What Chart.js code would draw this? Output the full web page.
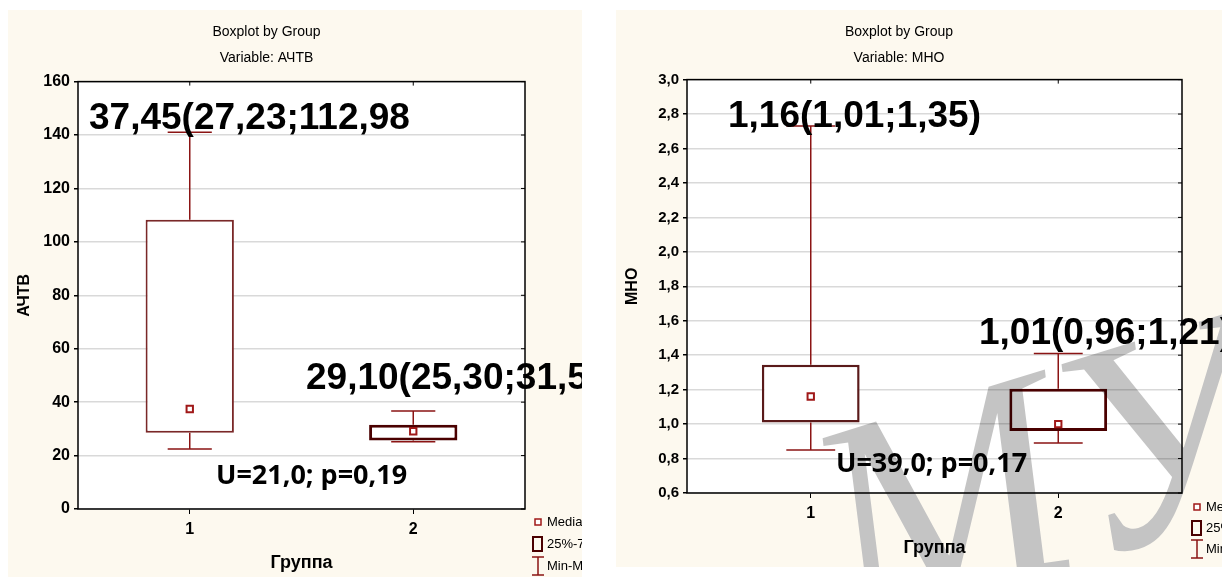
<!DOCTYPE html>
<html>
<head>
<meta charset="utf-8">
<script src="https://cdn.jsdelivr.net/npm/chart.js@4.4.0/dist/chart.umd.min.js"></script>
<style>
  html, body { margin: 0; padding: 0; background: #fff; width: 1222px; height: 577px; overflow: hidden; }
  .panel { position: absolute; background: #fdf9ef; }
  #leftBox { left: 8px; top: 10px; width: 574px; height: 567px; }
  #rightBox { left: 616px; top: 10px; width: 606px; height: 557px; }
</style>
</head>
<body>
<div class="panel" id="leftBox"><canvas id="achtvChart"></canvas></div>
<div class="panel" id="rightBox"><canvas id="mnoChart"></canvas></div>
<script>
// groups on the x axis
const groups = ['1', '2'];

// АЧТВ
const achtvMin = [22.5, 25.2];
const achtvQ1 = [28.5, 25.6];
const achtvMedian = [37.45, 29.1];
const achtvQ3 = [108.3, 31.5];
const achtvMax = [141, 36.7];
const achtvTicks = [0, 20, 40, 60, 80, 100, 120, 140, 160];
const achtvNotes = ['37,45(27,23;112,98', '29,10(25,30;31,5', 'U=21,0; p=0,19'];

// МНО
const mnoMin = [0.85, 0.89];
const mnoQ1 = [1.01, 0.96];
const mnoMedian = [1.16, 1.0];
const mnoQ3 = [1.345, 1.205];
const mnoMax = [2.73, 1.41];
const mnoTicks = [0.6, 0.8, 1.0, 1.2, 1.4, 1.6, 1.8, 2.0, 2.2, 2.4, 2.6, 2.8, 3.0];
const mnoNotes = ['1,16(1,01;1,35)', '1,01(0,96;1,21)', 'U=39,0; p=0,17'];

const legendLabels = ['Median', '25%-75%', 'Min-Max'];

const SANS = "'Liberation Sans', Arial, sans-serif";
const WHISKER = '#8b1414';
const MEDIAN = '#a01818';

const plotBg = {
  id: 'plotBg',
  beforeDraw(chart) {
    const {ctx, chartArea: a} = chart;
    ctx.save();
    ctx.fillStyle = '#fff';
    ctx.fillRect(a.left, a.top, a.right - a.left, a.bottom - a.top);
    ctx.restore();
  }
};

// grey "МУ" stamp that sits over the right figure
const watermark = {
  id: 'watermark',
  afterDraw(chart, args, opts) {
    if (!opts.show) return;
    const {ctx} = chart;
    ctx.save();
    ctx.globalCompositeOperation = 'multiply';
    ctx.translate(opts.x, opts.y);
    ctx.rotate(opts.angle);
    ctx.fillStyle = '#c4c4c4';
    ctx.font = "italic 300px 'Liberation Serif', serif";
    ctx.fillText('МУ', 0, 0);
    ctx.restore();
  }
};

const whiskers = {
  id: 'whiskers',
  beforeDatasetsDraw(chart, args, opts) {
    const {ctx, scales: {y}} = chart;
    const bars = chart.getDatasetMeta(0).data;
    ctx.save();
    ctx.strokeStyle = WHISKER;
    ctx.lineWidth = 1.5;
    opts.lo.forEach((lo, i) => {
      const cx = bars[i].x, half = bars[i].width / 4;
      const yLo = y.getPixelForValue(lo), yHi = y.getPixelForValue(opts.hi[i]);
      const yQ1 = y.getPixelForValue(opts.q1[i]), yQ3 = y.getPixelForValue(opts.q3[i]);
      ctx.beginPath();
      ctx.moveTo(cx, yQ3); ctx.lineTo(cx, yHi);
      ctx.moveTo(cx - half, yHi); ctx.lineTo(cx + half, yHi);
      ctx.moveTo(cx, yQ1); ctx.lineTo(cx, yLo);
      ctx.moveTo(cx - half, yLo); ctx.lineTo(cx + half, yLo);
      ctx.stroke();
    });
    ctx.restore();
  }
};

const frame = {
  id: 'frame',
  afterDatasetsDraw(chart) {
    const {ctx, chartArea: a, scales: {x, y}} = chart;
    ctx.save();
    ctx.strokeStyle = '#000';
    ctx.lineWidth = 1.5;
    ctx.strokeRect(a.left, a.top, a.right - a.left, a.bottom - a.top);
    ctx.lineWidth = 1;
    ctx.beginPath();
    y.ticks.forEach(t => {
      const py = y.getPixelForValue(t.value);
      ctx.moveTo(a.right - 4, py); ctx.lineTo(a.right, py);
    });
    x.ticks.forEach((t, i) => {
      const px = x.getPixelForTick(i);
      ctx.moveTo(px, a.top); ctx.lineTo(px, a.top + 4);
    });
    ctx.stroke();
    ctx.restore();
  }
};

const notes = {
  id: 'notes',
  afterDraw(chart, args, opts) {
    const {ctx} = chart;
    ctx.save();
    ctx.fillStyle = '#000';
    ctx.textBaseline = 'alphabetic';
    opts.items.forEach((it, i) => {
      ctx.font = i < 2 ? "bold 37px 'Liberation Sans', Arial, sans-serif" : "bold 27px 'Open Sans', sans-serif";
      ctx.fillText(opts.texts[i], it[0], it[1]);
    });
    // legend in the lower right corner
    const [lx, ly, gap] = opts.legend;
    ctx.font = "13px " + SANS;
    ctx.textBaseline = 'middle';
    ctx.fillText(legendLabels[0], lx + 12, ly);
    ctx.fillText(legendLabels[1], lx + 12, ly + gap);
    ctx.fillText(legendLabels[2], lx + 12, ly + gap * 2);
    ctx.strokeStyle = MEDIAN;
    ctx.lineWidth = 1.5;
    ctx.fillStyle = '#fff';
    ctx.fillRect(lx, ly - 3, 6, 6);
    ctx.strokeRect(lx, ly - 3, 6, 6);
    ctx.strokeStyle = '#4a0000';
    ctx.lineWidth = 2;
    ctx.strokeRect(lx - 2, ly + gap - 7, 9, 14);
    ctx.strokeStyle = WHISKER;
    ctx.lineWidth = 1.5;
    ctx.beginPath();
    ctx.moveTo(lx + 3, ly + gap * 2 - 9); ctx.lineTo(lx + 3, ly + gap * 2 + 9);
    ctx.moveTo(lx - 3, ly + gap * 2 - 9); ctx.lineTo(lx + 9, ly + gap * 2 - 9);
    ctx.moveTo(lx - 3, ly + gap * 2 + 9); ctx.lineTo(lx + 9, ly + gap * 2 + 9);
    ctx.stroke();
    ctx.restore();
  }
};

function boxChart(id, s) {
  return new Chart(document.getElementById(id), {
    type: 'bar',
    data: {
      labels: groups,
      datasets: [{
        data: groups.map((g, i) => [s.q1[i], s.q3[i]]),
        backgroundColor: '#fff',
        borderColor: s.boxColors,
        borderWidth: s.boxWidths,
        borderSkipped: false,
        barPercentage: 0.395,
        categoryPercentage: 1,
        order: 2
      }, {
        type: 'line',
        data: s.median,
        showLine: false,
        pointStyle: 'rect',
        pointRadius: 4.5,
        pointBackgroundColor: '#fff',
        pointBorderColor: MEDIAN,
        pointBorderWidth: 2,
        order: 1
      }]
    },
    options: {
      responsive: true,
      maintainAspectRatio: false,
      animation: false,
      events: [],
      layout: {padding: {left: 0, right: s.padRight, top: 0, bottom: 0}},
      plugins: {
        legend: {display: false},
        tooltip: {enabled: false},
        title: {
          display: true, text: 'Boxplot by Group', color: '#000',
          font: {family: SANS, size: 14, weight: 'normal', lineHeight: 1.2},
          padding: {top: 14, bottom: 9}
        },
        subtitle: {
          display: true, text: 'Variable: ' + s.name, color: '#000',
          font: {family: SANS, size: 14, weight: 'normal', lineHeight: 1.2},
          padding: {top: 0, bottom: s.subPad}
        },
        watermark: {show: s.watermark, x: 235, y: 625, angle: -0.3},
        whiskers: {lo: s.lo, hi: s.hi, q1: s.q1, q3: s.q3},
        notes: {texts: s.notes, items: s.noteAt, legend: s.legendAt}
      },
      scales: {
        x: {
          type: 'category',
          offset: true,
          grid: {display: true, offset: false, drawOnChartArea: false, tickLength: 5, tickColor: '#000', color: '#000'},
          border: {display: false},
          ticks: {color: '#000', padding: 6, font: {family: SANS, size: 16, weight: 'bold'}},
          title: {
            display: true, text: 'Группа', color: '#000',
            font: {family: SANS, size: 18, weight: 'bold', lineHeight: 1.2},
            padding: {top: 0, bottom: s.xTitlePad}
          },
          afterFit(scale) { scale.height = s.xHeight; }
        },
        y: {
          min: s.ticks[0],
          max: s.ticks[s.ticks.length - 1],
          afterBuildTicks(scale) { scale.ticks = s.ticks.map(v => ({value: v})); },
          grid: {color: '#d9d9d9', lineWidth: 1.5, tickLength: 4, tickColor: '#000'},
          border: {display: false},
          ticks: {
            color: '#000', padding: 4,
            font: {family: SANS, size: s.tickSize, weight: 'bold'},
            callback: v => s.fmt(v)
          },
          title: {
            display: true, text: s.name, color: '#000',
            font: {family: SANS, size: 16, weight: 'bold', lineHeight: 1.2},
            padding: {top: 7, bottom: 0}
          },
          afterFit(scale) { scale.width = s.yWidth; }
        }
      }
    },
    plugins: [plotBg, whiskers, frame, notes, watermark]
  });
}

boxChart('achtvChart', {
  name: 'АЧТВ',
  lo: achtvMin, q1: achtvQ1, median: achtvMedian, q3: achtvQ3, hi: achtvMax,
  ticks: achtvTicks, fmt: v => String(v),
  notes: achtvNotes, noteAt: [[81, 119], [298, 379], [208, 474]], legendAt: [527, 512, 22],
  boxColors: ['#7a2828', '#4a0000'], boxWidths: [2, 3],
  padRight: 57, subPad: 15, xHeight: 68, xTitlePad: 3, yWidth: 70,
  tickSize: 16, watermark: false
});

boxChart('mnoChart', {
  name: 'МНО',
  lo: mnoMin, q1: mnoQ1, median: mnoMedian, q3: mnoQ3, hi: mnoMax,
  ticks: mnoTicks, fmt: v => v.toFixed(1).replace('.', ','),
  notes: mnoNotes, noteAt: [[112, 117], [363, 334], [220, 462]], legendAt: [578, 497, 21],
  boxColors: ['#5a1a1a', '#4a0000'], boxWidths: [2.5, 3],
  padRight: 40, subPad: 13, xHeight: 74, xTitlePad: 8, yWidth: 71,
  tickSize: 15, watermark: true
});
</script>
</body>
</html>
